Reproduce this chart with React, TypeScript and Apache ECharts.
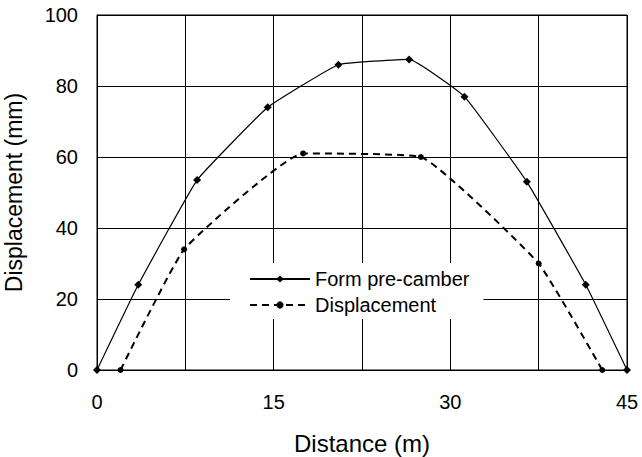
import React, { useEffect, useRef } from "react";
import * as echarts from "echarts";

const formX = [0, 3.5, 8.5, 14.5, 20.5, 26.5, 31.2, 36.5, 41.5, 45];
const formY = [0, 24, 53.5, 74, 86, 87.5, 77, 53, 24, 0];
const dispX = [2, 7.4, 17.5, 27.5, 37.5, 42.9];
const dispY = [0, 34, 61, 60, 30, 0];
const xLabelValues = [0, 15, 30, 45];
const seriesNames = ["Form pre-camber", "Displacement"];

const FONT = "'Liberation Sans', Arial, sans-serif";

export default function App() {
  const ref = useRef<HTMLDivElement>(null);
  useEffect(() => {
    if (!ref.current) return;
    const chart = echarts.init(ref.current, undefined, { renderer: "svg" });
    chart.setOption({
      animation: false,
      backgroundColor: "#fff",
      textStyle: { fontFamily: FONT, color: "#000" },
      grid: {
        left: 97,
        right: 15,
        top: 15,
        bottom: 87,
        show: true,
        borderColor: "#000",
        borderWidth: 1,
        containLabel: false,
        outerBoundsMode: "none",
      },
      xAxis: {
        type: "value",
        min: 0,
        max: 45,
        interval: 7.5,
        name: "Distance (m)",
        nameLocation: "middle",
        nameGap: 61,
        nameTextStyle: { fontSize: 24, color: "#000", fontFamily: FONT },
        axisLine: { show: true, lineStyle: { color: "#000", width: 1 } },
        axisTick: { show: false },
        axisLabel: {
          fontSize: 20,
          color: "#000",
          margin: 22,
          fontFamily: FONT,
          formatter: (v: number) => (xLabelValues.includes(v) ? String(v) : ""),
        },
        splitLine: { show: true, lineStyle: { color: "#000", width: 1 } },
      },
      yAxis: {
        type: "value",
        min: 0,
        max: 100,
        interval: 20,
        name: "Displacement (mm)",
        nameLocation: "middle",
        nameGap: 72,
        nameTextStyle: { fontSize: 23, color: "#000", fontFamily: FONT },
        axisLine: { show: true, lineStyle: { color: "#000", width: 1 } },
        axisTick: { show: false },
        axisLabel: { fontSize: 20, color: "#000", margin: 19, fontFamily: FONT },
        splitLine: { show: true, lineStyle: { color: "#000", width: 1 } },
      },
      legend: {
        orient: "vertical",
        left: 230,
        top: 263,
        backgroundColor: "#fff",
        padding: [6, 14, 4, 19],
        itemWidth: 60,
        itemHeight: 9,
        itemGap: 6,
        textStyle: { fontSize: 20, color: "#000", fontFamily: FONT, lineHeight: 20 },
        data: seriesNames,
      },
      series: [
        {
          name: seriesNames[0],
          type: "line",
          data: formX.map((x, i) => [x, formY[i]]),
          smooth: 0.1,
          symbol: "diamond",
          symbolSize: 8,
          lineStyle: { color: "#000", width: 1.2 },
          itemStyle: { color: "#000" },
        },
        {
          name: seriesNames[1],
          type: "line",
          data: dispX.map((x, i) => [x, dispY[i]]),
          smooth: 0.12,
          symbol: "circle",
          symbolSize: 6,
          lineStyle: { color: "#000", width: 2, type: [7, 5] },
          itemStyle: { color: "#000" },
        },
      ],
    });
    return () => chart.dispose();
  }, []);
  return (
    <div
      ref={ref}
      style={{ position: "fixed", left: 0, top: 0, width: 642, height: 457 }}
    />
  );
}
